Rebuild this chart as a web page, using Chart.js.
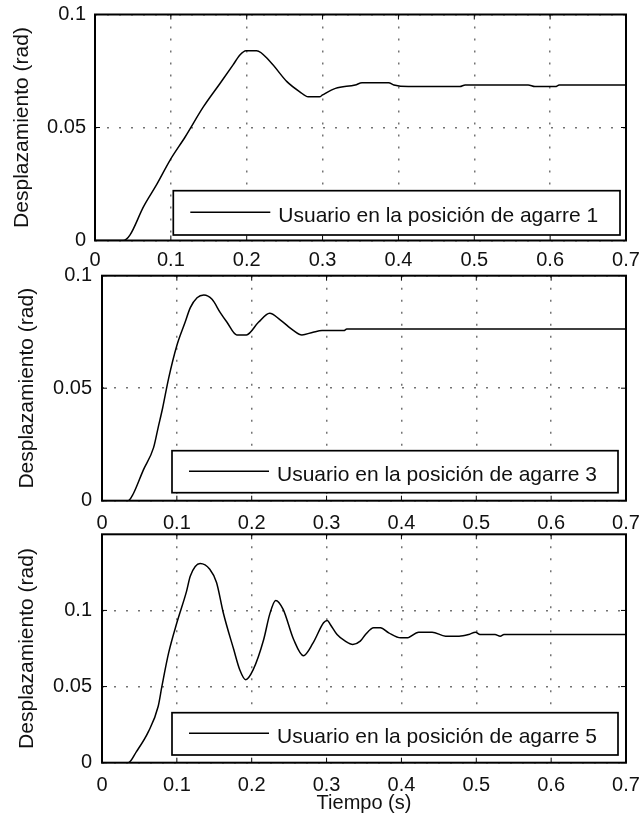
<!DOCTYPE html>
<html>
<head>
<meta charset="utf-8">
<script src="https://cdn.jsdelivr.net/npm/chart.js@4.4.1/dist/chart.umd.min.js"></script>
<style>
  html, body { margin: 0; padding: 0; background: #fff; }
  #wrap { position: relative; width: 644px; height: 820px; }
  #wrap canvas { position: absolute; left: 0; top: 0; }
</style>
</head>
<body>
<div id="wrap">
  <canvas id="plot1" width="644" height="820"></canvas>
  <canvas id="plot2" width="644" height="820"></canvas>
  <canvas id="plot3" width="644" height="820"></canvas>
</div>
<script>
// Tick labels
const timeTicks = [0, 0.1, 0.2, 0.3, 0.4, 0.5, 0.6, 0.7];
const dispTicks = [0, 0.05, 0.1];

// Series labels
const labels = [
  "Usuario en la posición de agarre 1",
  "Usuario en la posición de agarre 3",
  "Usuario en la posición de agarre 5",
];

// Grip position 1 (time in s, displacement in rad)
const time1 = [0, 0.037, 0.046, 0.064, 0.081, 0.099, 0.119, 0.143, 0.165, 0.182,
  0.191, 0.199, 0.213, 0.231, 0.253, 0.270, 0.281, 0.296, 0.300, 0.317, 0.343,
  0.352, 0.387, 0.394, 0.413, 0.481, 0.488, 0.571, 0.580, 0.607, 0.612, 0.700];
const disp1 = [0, 0, 0.0024, 0.0150, 0.0246, 0.0356, 0.0459, 0.0592, 0.0696, 0.0777,
  0.0821, 0.0840, 0.0840, 0.0791, 0.0703, 0.0658, 0.0636, 0.0636, 0.0644, 0.0673, 0.0688,
  0.0698, 0.0698, 0.0688, 0.0681, 0.0681, 0.0688, 0.0688, 0.0681, 0.0681, 0.0688, 0.0688];

// Grip position 3
const time3 = [0, 0.035, 0.042, 0.055, 0.069, 0.075, 0.081, 0.089, 0.100, 0.111,
  0.118, 0.127, 0.136, 0.147, 0.158, 0.167, 0.180, 0.193, 0.209, 0.224, 0.238,
  0.256, 0.267, 0.282, 0.294, 0.323, 0.327, 0.700];
const disp3 = [0, 0, 0.0032, 0.0135, 0.0237, 0.0325, 0.0412, 0.0544, 0.0690, 0.0793,
  0.0858, 0.0902, 0.0914, 0.0895, 0.0836, 0.0793, 0.0737, 0.0737, 0.0793, 0.0833, 0.0804,
  0.0756, 0.0737, 0.0749, 0.0756, 0.0756, 0.0763, 0.0763];

// Grip position 5
const time5 = [0, 0.035, 0.046, 0.062, 0.075, 0.080, 0.089, 0.100, 0.113, 0.118,
  0.131, 0.144, 0.153, 0.162, 0.176, 0.184, 0.192, 0.202, 0.216, 0.224, 0.232,
  0.242, 0.256, 0.269, 0.282, 0.296, 0.301, 0.305, 0.314, 0.325, 0.335, 0.345,
  0.352, 0.363, 0.372, 0.383, 0.399, 0.407, 0.423, 0.441, 0.459, 0.477, 0.490,
  0.499, 0.505, 0.525, 0.532, 0.537, 0.700];
const disp5 = [0, 0, 0.0073, 0.0204, 0.0369, 0.0501, 0.0721, 0.0919, 0.1127, 0.1226,
  0.1308, 0.1270, 0.1183, 0.0985, 0.0743, 0.0611, 0.0545, 0.0611, 0.0809, 0.0974, 0.1066,
  0.1007, 0.0809, 0.0703, 0.0787, 0.0919, 0.0934, 0.0908, 0.0842, 0.0798, 0.0776, 0.0798,
  0.0842, 0.0886, 0.0886, 0.0853, 0.0820, 0.0820, 0.0857, 0.0857, 0.0831, 0.0831, 0.0842,
  0.0857, 0.0842, 0.0842, 0.0831, 0.0842, 0.0842];

const textColor = "#111";
Chart.defaults.font.family = "'Liberation Sans', Arial, sans-serif";
Chart.defaults.color = textColor;

// axes box plus MATLAB style inward ticks
const framePlugin = {
  id: "frame",
  afterDatasetsDraw(chart) {
    const { ctx, chartArea: a, scales } = chart;
    ctx.save();
    ctx.strokeStyle = "#000";
    ctx.lineWidth = 1;
    ctx.beginPath();
    scales.x.ticks.forEach((t) => {
      const px = scales.x.getPixelForValue(t.value);
      ctx.moveTo(px, a.bottom); ctx.lineTo(px, a.bottom - 5);
      ctx.moveTo(px, a.top); ctx.lineTo(px, a.top + 5);
    });
    scales.y.ticks.forEach((t) => {
      const py = scales.y.getPixelForValue(t.value);
      ctx.moveTo(a.left, py); ctx.lineTo(a.left + 5, py);
      ctx.moveTo(a.right, py); ctx.lineTo(a.right - 5, py);
    });
    ctx.stroke();
    ctx.lineWidth = 2;
    ctx.strokeRect(a.left, a.top, a.right - a.left, a.bottom - a.top);
    ctx.restore();
  },
};

// boxed legend in the lower right corner of the axes
const boxLegendPlugin = {
  id: "boxLegend",
  afterDraw(chart, args, opts) {
    const { ctx, chartArea: a } = chart;
    const ds = chart.data.datasets[0];
    const right = a.right - opts.gapRight;
    const bottom = a.bottom - opts.gapBottom;
    const left = right - opts.width;
    const top = bottom - opts.height;
    const mid = (top + bottom) / 2;
    ctx.save();
    ctx.fillStyle = "#fff";
    ctx.fillRect(left, top, opts.width, opts.height);
    ctx.strokeStyle = "#000";
    ctx.lineWidth = 1.7;
    ctx.strokeRect(left, top, opts.width, opts.height);
    ctx.strokeStyle = ds.borderColor;
    ctx.lineWidth = ds.borderWidth;
    ctx.beginPath();
    ctx.moveTo(left + 17, mid - 0.5);
    ctx.lineTo(left + 97, mid - 0.5);
    ctx.stroke();
    ctx.fillStyle = textColor;
    ctx.font = "21px 'Liberation Sans', Arial, sans-serif";
    ctx.textBaseline = "alphabetic";
    ctx.fillText(ds.label, left + 105, mid + 9.2);
    ctx.restore();
  },
};

function makePlot(id, times, values, label, yMax, layout) {
  return new Chart(document.getElementById(id), {
    type: "line",
    data: {
      datasets: [
        {
          label: label,
          data: times.map((t, i) => ({ x: t, y: values[i] })),
          borderColor: "#000",
          borderWidth: 1.5,
          pointRadius: 0,
          cubicInterpolationMode: "monotone",
        },
      ],
    },
    options: {
      responsive: false,
      devicePixelRatio: 1,
      animation: false,
      layout: { padding: layout.padding },
      plugins: {
        legend: { display: false },
        tooltip: { enabled: false },
        boxLegend: layout.legend,
      },
      scales: {
        x: {
          type: "linear",
          min: 0,
          max: 0.7,
          afterFit: (s) => {
            s.height = layout.xHeight;
            s.paddingLeft = 0;
            s.paddingRight = 0;
          },
          afterBuildTicks: (s) => { s.ticks = timeTicks.map((v) => ({ value: v })); },
          ticks: {
            padding: layout.xPad,
            maxRotation: 0,
            autoSkip: false,
            font: { size: 20 },
            callback: (v) => String(v),
          },
          grid: { color: "rgba(0,0,0,0.55)", lineWidth: 1.5, drawTicks: false },
          border: { display: false, dash: [2, 10] },
          title: {
            display: !!layout.xTitle,
            text: layout.xTitle || "",
            font: { size: 20 },
            padding: { top: 0, bottom: 5 },
          },
        },
        y: {
          type: "linear",
          min: 0,
          max: yMax,
          afterFit: (s) => {
            s.width = layout.yWidth;
            s.paddingTop = 0;
            s.paddingBottom = 0;
          },
          afterBuildTicks: (s) => { s.ticks = dispTicks.map((v) => ({ value: v })); },
          ticks: {
            padding: layout.yPad,
            font: { size: 20 },
            callback: (v) => String(v),
          },
          grid: { color: "rgba(0,0,0,0.55)", lineWidth: 1.5, drawTicks: false },
          border: { display: false, dash: [2, 10] },
          title: {
            display: true,
            text: "Desplazamiento (rad)",
            font: { size: 21 },
            padding: { top: layout.yTitlePad, bottom: 0 },
          },
        },
      },
    },
    plugins: [framePlugin, boxLegendPlugin],
  });
}

makePlot("plot1", time1, disp1, labels[0], 0.1, {
  padding: { top: 14.5, right: 18, bottom: 539.5, left: 0 },
  xHeight: 40, yWidth: 95, xPad: 8, yPad: 9, yTitlePad: 10,
  legend: { gapRight: 6, gapBottom: 5.5, width: 446.7, height: 44.3 },
});
makePlot("plot2", time3, disp3, labels[1], 0.1, {
  padding: { top: 275.7, right: 18, bottom: 279.3, left: 0 },
  xHeight: 40, yWidth: 102, xPad: 11, yPad: 10, yTitlePad: 15,
  legend: { gapRight: 8, gapBottom: 8, width: 446, height: 42 },
});
makePlot("plot3", time5, disp5, labels[2], 0.15, {
  padding: { top: 534.3, right: 18, bottom: 0, left: 0 },
  xHeight: 57.3, yWidth: 102, xPad: 11, yPad: 10, yTitlePad: 15,
  xTitle: "Tiempo (s)",
  legend: { gapRight: 8, gapBottom: 7.7, width: 446, height: 42.3 },
});
</script>
</body>
</html>
